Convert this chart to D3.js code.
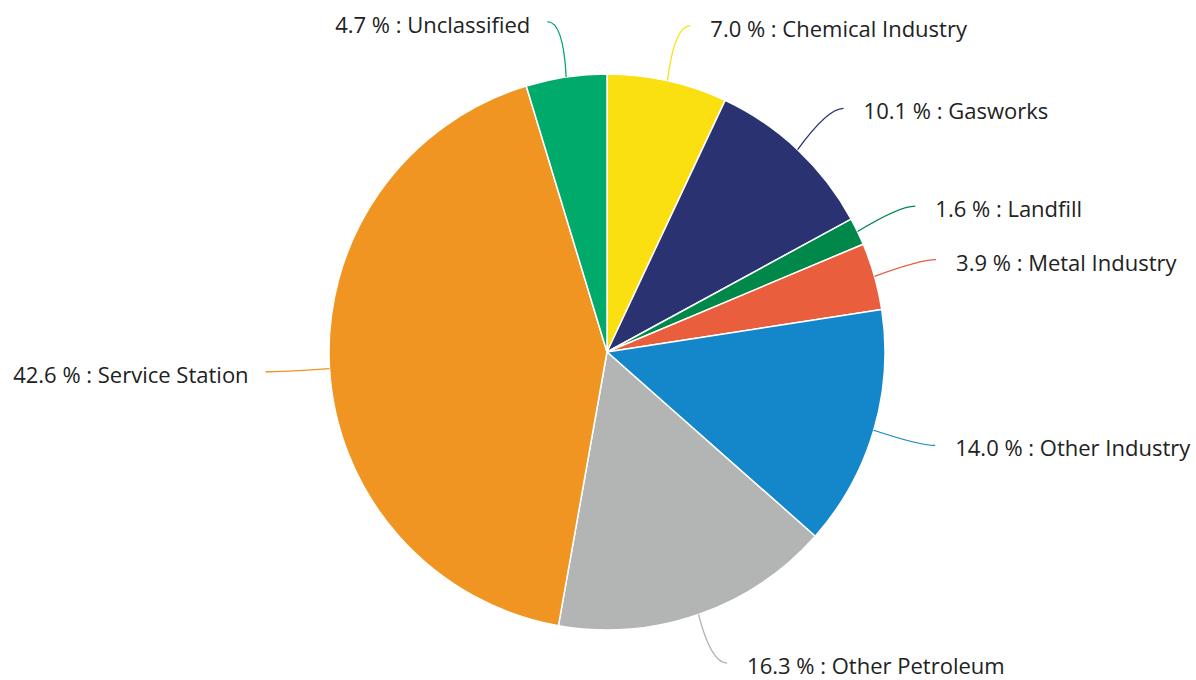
<!DOCTYPE html>
<html><head><meta charset="utf-8">
<script src="https://cdn.jsdelivr.net/npm/d3@7"></script>
<style>html,body{margin:0;padding:0;background:#fff;}svg{display:block;}</style>
</head><body>
<svg id="chart" width="1196" height="680"></svg>
<script>
const categories = ["Chemical Industry","Gasworks","Landfill","Metal Industry","Other Industry","Other Petroleum","Service Station","Unclassified"];
const values = [7.0, 10.1, 1.6, 3.9, 14.0, 16.3, 42.6, 4.7];
const colors = ["#fbe011","#2a3272","#00884b","#e95e3c","#1387c9","#b2b5b3","#f09422","#00aa6a"];

const W = 1196, H = 680;
const cx = 607, cy = 352, r = 278;
const labelRx = r + 64, labelRy = r + 54;

const svg = d3.select("#chart");
const g = svg.append("g").attr("transform", `translate(${cx},${cy})`);

const pie = d3.pie().sort(null).value(d => d.v);
const data = pie(categories.map((c,i)=>({c, v: values[i], col: colors[i]})));
const arc = d3.arc().innerRadius(0).outerRadius(r);

g.selectAll("path.slice").data(data).enter().append("path")
  .attr("class","slice")
  .attr("d", arc)
  .attr("fill", d => d.data.col)
  .attr("stroke", "#fff")
  .attr("stroke-width", 1.5)
  .attr("stroke-linejoin","round");

data.forEach(d => {
  const mid = (d.startAngle + d.endAngle)/2;
  const s = Math.sin(mid), co = Math.cos(mid);
  const dir = s >= 0 ? 1 : -1;
  const p0 = [r*s, -r*co];
  const push = dir * 10 * Math.pow(Math.abs(co), 5);
  let py = -labelRy*co - (co > 0 ? 2 : 0);
  py = Math.min(py, H - cy - 17);
  const p1 = [labelRx*s + push, py];
  const c = [p1[0] - dir*16, p1[1]];
  const path = d3.path();
  path.moveTo(p0[0], p0[1]);
  path.quadraticCurveTo(c[0], c[1], p1[0], p1[1]);
  g.append("path").attr("d", path.toString())
    .attr("fill","none").attr("stroke", d.data.col).attr("stroke-width",1.3);
  g.append("text")
    .attr("x", p1[0] + (dir > 0 ? 20 : -17))
    .attr("y", p1[1] + 11)
    .attr("text-anchor", dir > 0 ? "start" : "end")
    .attr("font-family","'Open Sans', sans-serif")
    .attr("font-size", 22)
    .attr("fill","#222")
    .text(d3.format(".1f")(d.data.v) + " % : " + d.data.c);
});
</script>
</body></html>
